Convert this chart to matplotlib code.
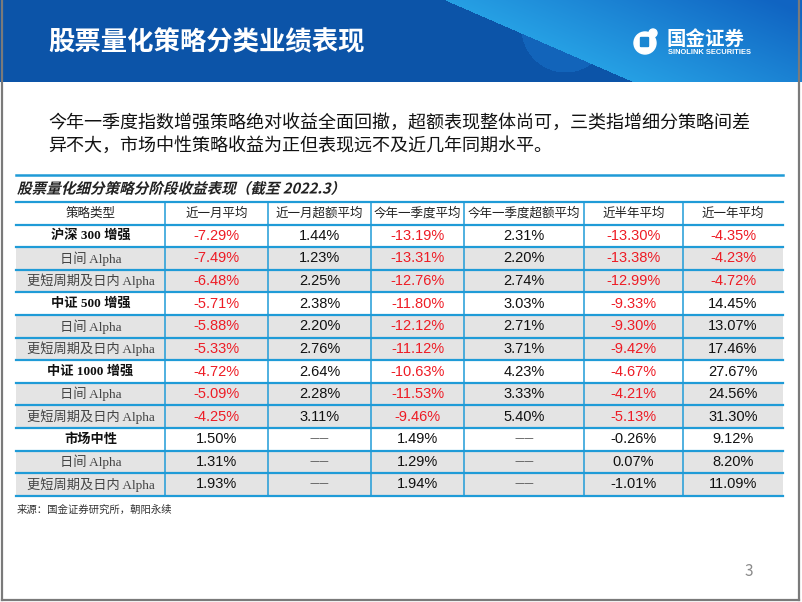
import numpy as np
import matplotlib
matplotlib.use('Agg')
import matplotlib.pyplot as plt
from matplotlib.patches import Rectangle, Circle, FancyBboxPatch, PathPatch
from matplotlib.textpath import TextPath
from matplotlib.font_manager import FontProperties
from matplotlib.transforms import Affine2D

plt.rcParams['font.family'] = ['Noto Sans CJK SC', 'DejaVu Sans']

#chart data
title = '股票量化策略分类业绩表现'
summary = ['今年一季度指数增强策略绝对收益全面回撤，超额表现整体尚可，三类指增细分策略间差',
           '异不大，市场中性策略收益为正但表现远不及近几年同期水平。']
caption = '股票量化细分策略分阶段收益表现（截至 2022.3）'
source = '来源：国金证券研究所，朝阳永续'

columns = ['策略类型', '近一月平均', '近一月超额平均', '今年一季度平均',
           '今年一季度超额平均', '近半年平均', '近一年平均']
strategies = ['沪深 300 增强', '日间 Alpha', '更短周期及日内 Alpha',
              '中证 500 增强', '日间 Alpha', '更短周期及日内 Alpha',
              '中证 1000 增强', '日间 Alpha', '更短周期及日内 Alpha',
              '市场中性', '日间 Alpha', '更短周期及日内 Alpha']
is_group = [True, False, False, True, False, False,
            True, False, False, True, False, False]
is_neutral = [False]*9 + [True]*3

m1_avg = [-7.29, -7.49, -6.48, -5.71, -5.88, -5.33, -4.72, -5.09, -4.25, 1.50, 1.31, 1.93]
m1_excess = [1.44, 1.23, 2.25, 2.38, 2.20, 2.76, 2.64, 2.28, 3.11, None, None, None]
q1_avg = [-13.19, -13.31, -12.76, -11.80, -12.12, -11.12, -10.63, -11.53, -9.46, 1.49, 1.29, 1.94]
q1_excess = [2.31, 2.20, 2.74, 3.03, 2.71, 3.71, 4.23, 3.33, 5.40, None, None, None]
h1_avg = [-13.30, -13.38, -12.99, -9.33, -9.30, -9.42, -4.67, -4.21, -5.13, -0.26, 0.07, -1.01]
y1_avg = [-4.35, -4.23, -4.72, 14.45, 13.07, 17.46, 27.67, 24.56, 31.30, 9.12, 8.20, 11.09]
value_cols = [m1_avg, m1_excess, q1_avg, q1_excess, h1_avg, y1_avg]

W, H = 802, 602
fig = plt.figure(figsize=(W/100, H/100), dpi=100)
ax = fig.add_axes([0, 0, 1, 1])
ax.set_xlim(0, W)
ax.set_ylim(H, 0)
ax.axis('off')

#header banner
hh = 82
yy, xx = np.mgrid[0:hh, 0:W].astype(float)
img = np.zeros((hh, W, 3))
img[:] = np.array([12, 84, 168]) / 255
circ = (xx - 565)**2 + (yy - 28)**2 < 44**2
img[circ] = np.array([18, 100, 186]) / 255
edge = 445 + 2.3*yy
right = xx > edge
t = np.clip((xx - edge) / 330, 0, 1)[..., None]
c1 = np.array([38, 160, 228]) / 255
c2 = np.array([16, 100, 194]) / 255
rimg = c1*(1 - t) + c2*t
img[right] = rimg[right]
ax.imshow(img, extent=[0, W, hh, 0], aspect='auto', zorder=0, interpolation='bilinear')

ax.text(48, 43, title, color='white', fontsize=19, fontweight='bold', va='center', ha='left')

#logo
ax.add_patch(Circle((645, 43), 11, color='white', zorder=3))
ax.add_patch(FancyBboxPatch((641, 38), 7, 8, boxstyle='round,pad=0.5',
                            color='#1a86d2', zorder=4))
ax.add_patch(Circle((653, 33), 4, color='white', zorder=5))
ax.text(667, 39, '国金证券', color='white', fontsize=14, fontweight='bold', va='center')
ax.text(668, 52.5, 'SINOLINK SECURITIES', color='white', fontsize=5.4, fontweight='bold',
        va='center', family=['Liberation Sans', 'DejaVu Sans'])

#summary text
ax.text(48, 123, summary[0], fontsize=13, color='#111111', va='center')
ax.text(48, 146, summary[1], fontsize=13, color='#111111', va='center')

#table
blue = '#1f9bd7'
x_edges = [16, 165, 268, 371, 464, 584, 683, 783]
top = 202
rh = 22.6
n = len(strategies)

ax.plot([16, 783], [175, 175], color=blue, lw=1.8, zorder=6)

# slanted caption (the CJK font has no italic face)
fp = FontProperties(family='Noto Sans CJK SC', weight='bold')
tp = TextPath((0, 0), caption, size=10.5*100/72, prop=fp)
tr = Affine2D().skew_deg(14, 0).scale(1, -1).translate(17, 193.5) + ax.transData
ax.add_patch(PathPatch(tp, transform=tr, color='#222222', lw=0, zorder=6))

for i in range(n):
    y0 = top + rh*(i + 1)
    if not is_group[i]:
        ax.add_patch(Rectangle((x_edges[0], y0), x_edges[-1] - x_edges[0], rh,
                               color='#e4e4e4', lw=0, zorder=1))

for j, name in enumerate(columns):
    xc = (x_edges[j] + x_edges[j + 1]) / 2
    ax.text(xc, top + rh/2, name, fontsize=9, color='#222222', ha='center', va='center')

for i, name in enumerate(strategies):
    yc = top + rh*(i + 1.5)
    xc = (x_edges[0] + x_edges[1]) / 2
    if is_group[i]:
        ax.text(xc, yc, name, fontsize=9.5, fontweight='bold', color='#111111', ha='center',
                va='center', family=['Liberation Serif', 'Noto Sans CJK SC'])
    else:
        ax.text(xc, yc, name, fontsize=9.5, color='#444444', ha='center', va='center',
                family=['Liberation Serif', 'Noto Sans CJK SC'])
    for j, col in enumerate(value_cols):
        xc = (x_edges[j + 1] + x_edges[j + 2]) / 2
        v = col[i]
        if v is None:
            ax.text(xc, yc, '——', fontsize=8, color='#555555', ha='center', va='center')
            continue
        c = '#ee1c25' if (v < 0 and not is_neutral[i]) else '#111111'
        ax.text(xc, yc, '%.2f%%' % v, fontsize=10.5, color=c, ha='center', va='center',
                family=['Liberation Sans', 'DejaVu Sans'])

bottom = top + rh*(n + 1)
for i in range(n + 2):
    y0 = top + rh*i
    ax.plot([x_edges[0], x_edges[-1]], [y0, y0], color=blue, lw=1.6, zorder=6)
for x0 in x_edges[1:-1]:
    ax.plot([x0, x0], [top, bottom], color=blue, lw=1.1, zorder=6)

ax.text(17, 510, source, fontsize=7.5, color='#333333', va='center')
ax.text(749, 572, '3', fontsize=11, color='#8a8a8a', ha='center', va='center')

#slide frame
ax.plot([2, 2], [0, 600], color='#7a7a7a', lw=1.6, zorder=7)
ax.plot([799, 799], [0, 600], color='#7a7a7a', lw=1.6, zorder=7)
ax.plot([2, 799], [600, 600], color='#7a7a7a', lw=1.6, zorder=7)

fig.savefig('out.png', dpi=100)
